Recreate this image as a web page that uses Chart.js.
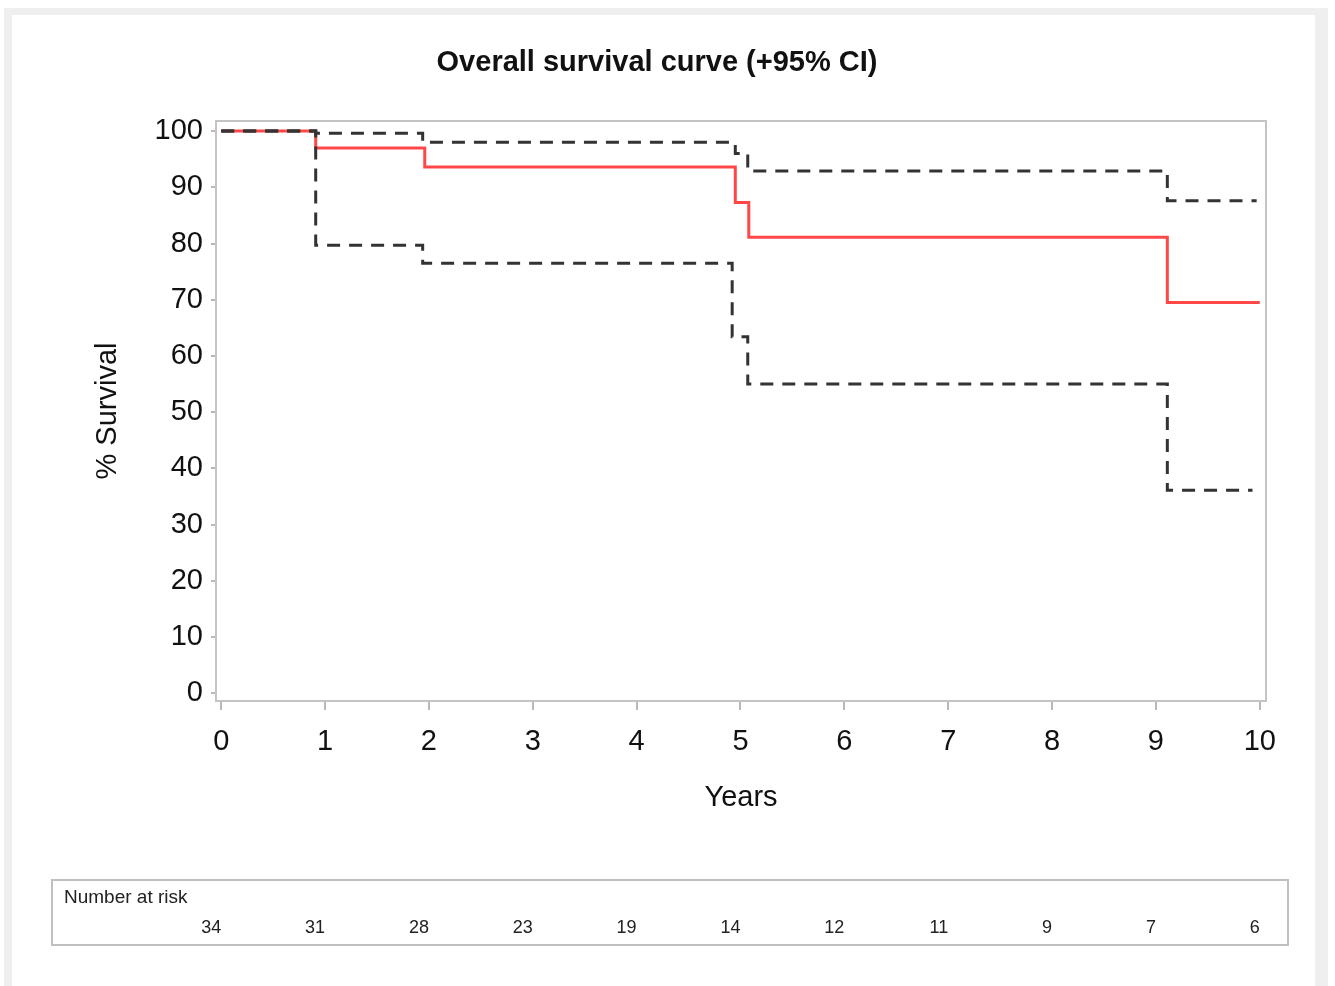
<!DOCTYPE html>
<html>
<head>
<meta charset="utf-8">
<script src="https://cdn.jsdelivr.net/npm/chart.js@4"></script>
<style>
  html, body { margin: 0; padding: 0; background: #fff; }
  #wrap { position: absolute; left: 0; top: 0; width: 1335px; height: 986px; }
</style>
</head>
<body>
<div id="wrap"><canvas id="kmChart" width="1335" height="986"></canvas></div>
<script>
// Kaplan-Meier estimate (step points)
var survTimes = [0, 0.91, 1.96, 4.95, 5.08, 9.11, 10];
var survVals = [100, 97.0, 93.6, 87.3, 81.1, 69.5, 69.5];

// upper 95% CI
var upperTimes = [0, 0.91, 1.94, 4.95, 5.07, 9.11, 9.97];
var upperVals = [100, 99.6, 98.0, 96.0, 92.9, 87.6, 87.6];

// lower 95% CI
var lowerTimes = [0, 0.91, 1.94, 4.92, 5.07, 9.11, 9.93];
var lowerVals = [100, 79.7, 76.5, 63.4, 55.0, 36.1, 36.1];

var xTicks = [0, 1, 2, 3, 4, 5, 6, 7, 8, 9, 10];
var yTicks = [0, 10, 20, 30, 40, 50, 60, 70, 80, 90, 100];
var riskYears = [0, 1, 2, 3, 4, 5, 6, 7, 8, 9, 10];
var riskCounts = [34, 31, 28, 23, 19, 14, 12, 11, 9, 7, 6];

var fontFam = '"Liberation Sans", Arial, sans-serif';

function toPoints(ts, vs) {
    var pts = [];
    for (var i = 0; i < ts.length; i++) {
        pts.push({ x: ts[i], y: vs[i] });
    }
    return pts;
}

var framePlugin = {
    id: 'frame',
    beforeDraw: function (chart) {
        var ctx = chart.ctx;
        ctx.save();
        ctx.fillStyle = '#ffffff';
        ctx.fillRect(0, 0, chart.width, chart.height);
        ctx.fillStyle = '#efefef';
        ctx.fillRect(4, 8, 1324, 978);
        ctx.fillStyle = '#ffffff';
        ctx.fillRect(12, 15, 1303, 971);
        ctx.restore();
    },
    afterDraw: function (chart) {
        var ctx = chart.ctx;
        var a = chart.chartArea;
        var xs = chart.scales.x;
        ctx.save();
        // plot border
        ctx.strokeStyle = '#c4c4c4';
        ctx.lineWidth = 2;
        ctx.strokeRect(a.left, a.top, a.right - a.left, a.bottom - a.top);

        // title
        ctx.fillStyle = '#111';
        ctx.font = 'bold 29px ' + fontFam;
        ctx.textAlign = 'center';
        ctx.textBaseline = 'middle';
        ctx.fillText('Overall survival curve (+95% CI)', 657, 63);

        // number at risk table
        ctx.strokeStyle = '#c0c0c0';
        ctx.lineWidth = 2;
        ctx.strokeRect(52, 880, 1236, 65);
        ctx.font = '19px ' + fontFam;
        ctx.textAlign = 'left';
        ctx.fillStyle = '#222';
        ctx.fillText('Number at risk', 64, 898);
        ctx.font = '18px ' + fontFam;
        ctx.textAlign = 'right';
        for (var i = 0; i < riskYears.length; i++) {
            ctx.fillText(String(riskCounts[i]), xs.getPixelForValue(riskYears[i]), 928);
        }
        ctx.restore();
    }
};

var ctx = document.getElementById('kmChart');
var kmChart = new Chart(ctx, {
    type: 'line',
    data: {
        datasets: [{
            label: 'Upper CI',
            data: toPoints(upperTimes, upperVals),
            stepped: true,
            borderColor: '#333333',
            borderWidth: 3,
            borderDash: [13, 9],
            pointRadius: 0,
            fill: false,
            order: 0
        }, {
            label: 'Lower CI',
            data: toPoints(lowerTimes, lowerVals),
            stepped: true,
            borderColor: '#333333',
            borderWidth: 3,
            borderDash: [13, 9],
            pointRadius: 0,
            fill: false,
            order: 0
        }, {
            label: 'Survival',
            data: toPoints(survTimes, survVals),
            stepped: true,
            borderColor: '#ff4747',
            borderWidth: 3,
            pointRadius: 0,
            fill: false,
            order: 1
        }]
    },
    options: {
        responsive: false,
        animation: false,
        layout: { padding: { left: 0, right: 69, top: 121, bottom: 170 } },
        plugins: {
            legend: { display: false },
            title: { display: false },
            tooltip: { enabled: false }
        },
        scales: {
            x: {
                type: 'linear',
                min: -0.05,
                max: 10.06,
                afterBuildTicks: function (s) {
                    s.ticks = xTicks.map(function (v) { return { value: v }; });
                },
                afterFit: function (s) { s.height = 115; },
                grid: {
                    drawOnChartArea: false,
                    drawTicks: true,
                    tickLength: 9,
                    tickColor: '#b8b8b8',
                    lineWidth: 2
                },
                border: { display: false },
                ticks: {
                    color: '#111',
                    padding: 15,
                    maxRotation: 0,
                    font: { family: fontFam, size: 29 }
                },
                title: {
                    display: true,
                    text: 'Years',
                    color: '#111',
                    padding: { top: 0, bottom: 1 },
                    font: { family: fontFam, size: 29 }
                }
            },
            y: {
                min: -1.4,
                max: 101.8,
                afterBuildTicks: function (s) {
                    s.ticks = yTicks.map(function (v) { return { value: v }; });
                },
                afterFit: function (s) { s.width = 216; },
                grid: {
                    drawOnChartArea: false,
                    drawTicks: true,
                    tickLength: 5,
                    tickColor: '#b8b8b8',
                    lineWidth: 2
                },
                border: { display: false },
                ticks: {
                    color: '#111',
                    padding: 8,
                    font: { family: fontFam, size: 29 }
                },
                title: {
                    display: true,
                    text: '% Survival',
                    color: '#111',
                    padding: { top: 91, bottom: 0 },
                    font: { family: fontFam, size: 29 }
                }
            }
        }
    },
    plugins: [framePlugin]
});
</script>
</body>
</html>
